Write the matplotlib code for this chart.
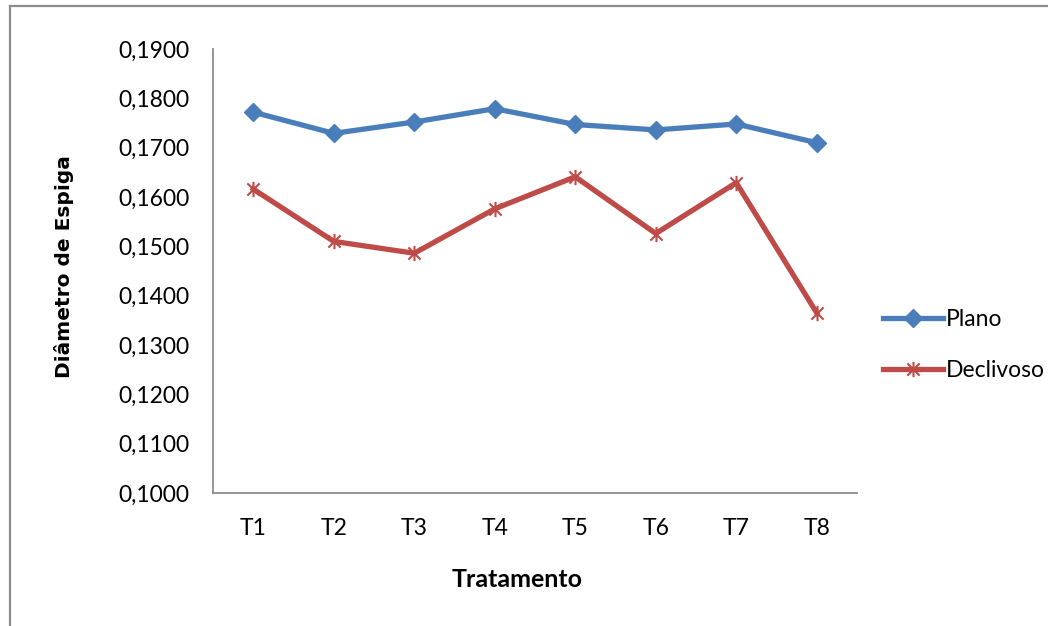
import matplotlib
matplotlib.use("Agg")
import matplotlib.pyplot as plt
from matplotlib.lines import Line2D
from matplotlib.path import Path
from matplotlib.ticker import FuncFormatter

tratamentos = ["T1", "T2", "T3", "T4", "T5", "T6", "T7", "T8"]
plano = [0.1772, 0.1729, 0.1752, 0.1779, 0.1747, 0.1736, 0.1748, 0.1710]
declivoso = [0.1616, 0.1510, 0.1486, 0.1576, 0.1641, 0.1526, 0.1629, 0.1365]

AZUL = "#4a7ebb"
VERMELHO = "#be4b48"
CINZA = "#8c8c8c"

# estrela do Excel: um X com um traço vertical
estrela = Path([(-1, -1), (1, 1), (-1, 1), (1, -1), (0, -1.25), (0, 1.25)],
               [Path.MOVETO, Path.LINETO, Path.MOVETO, Path.LINETO,
                Path.MOVETO, Path.LINETO])

fig = plt.figure(figsize=(10.48, 6.26), dpi=100)
ax = fig.add_axes([213 / 1048, 133 / 626, 644 / 1048, 444 / 626])

x = range(len(tratamentos))
ax.plot(x, plano, color=AZUL, lw=3.8, marker="D", ms=9.5,
        markerfacecolor=AZUL, markeredgecolor=AZUL, label="Plano")
ax.plot(x, declivoso, color=VERMELHO, lw=3.8, marker=estrela, ms=11,
        markeredgewidth=1.5, markerfacecolor="none", markeredgecolor=VERMELHO,
        label="Declivoso")

ax.set_xlim(-0.5, len(tratamentos) - 0.5)
ax.set_ylim(0.10, 0.19)
ax.set_yticks([0.10 + 0.01 * i for i in range(10)])
ax.yaxis.set_major_formatter(FuncFormatter(lambda v, p: f"{v:.4f}".replace(".", ",")))
ax.set_xticks(list(x))
ax.set_xticklabels(tratamentos)

for lado in ("top", "right"):
    ax.spines[lado].set_visible(False)
for lado in ("left", "bottom"):
    ax.spines[lado].set_color(CINZA)
    ax.spines[lado].set_linewidth(1.3)

ax.tick_params(axis="y", length=0, pad=17, labelsize=16.5)
ax.tick_params(axis="x", length=0, pad=18, labelsize=16.5)
for lbl in ax.get_xticklabels() + ax.get_yticklabels():
    lbl.set_fontfamily("Lato")

ax.set_ylabel("Diâmetro de Espiga", fontsize=14.5, fontweight="bold",
              family="DejaVu Sans")
ax.yaxis.set_label_coords((74 - 213) / 644, (493 - 267) / 444)
ax.set_xlabel("Tratamento", fontsize=18, fontweight="bold", family="Lato")
ax.xaxis.set_label_coords((517 - 213) / 644, (493 - 568) / 444)

ax.legend(loc="center left", bbox_to_anchor=(874 / 1048, 1 - 345 / 626),
          bbox_transform=fig.transFigure, frameon=False,
          prop={"family": "Lato", "size": 16.5}, handlelength=2.6,
          handletextpad=0.15, labelspacing=1.35, borderaxespad=0)

# moldura externa do gráfico
fig.add_artist(Line2D([9.5 / 1048, 9.5 / 1048], [0, 1 - 6 / 626],
                      transform=fig.transFigure, color=CINZA, lw=1.6))
fig.add_artist(Line2D([9.5 / 1048, 1], [1 - 6 / 626, 1 - 6 / 626],
                      transform=fig.transFigure, color=CINZA, lw=1.6))

fig.savefig("out.png", dpi=100)
